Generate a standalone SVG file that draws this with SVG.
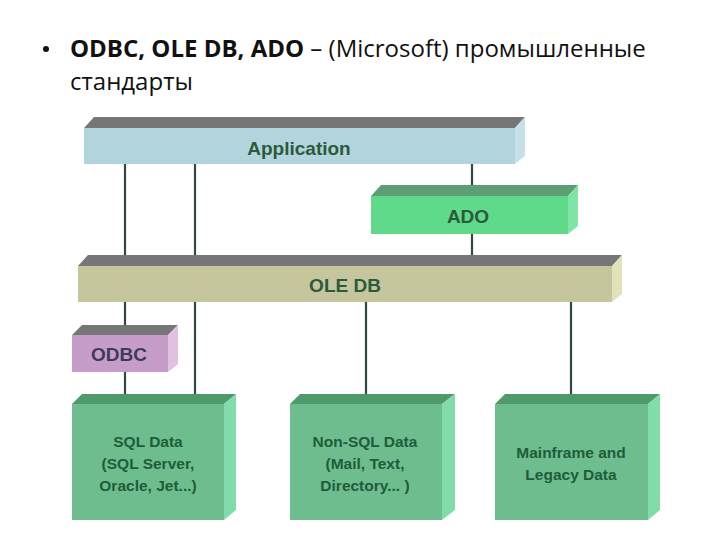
<svg xmlns="http://www.w3.org/2000/svg" width="720" height="540" viewBox="0 0 720 540">
<style>
.title{font-family:"Open Sans","Liberation Sans",sans-serif;font-size:24px;fill:#111}
.lbl{font-family:"Liberation Sans",Arial,sans-serif;font-weight:bold;text-anchor:middle}
.big{font-size:19px;fill:#2b5a3c}
.small{font-size:15.5px;fill:#1f5c3c}
.conn line{stroke:#2f4a40;stroke-width:2.2}
.topg{fill:#767676}
</style>
<rect width="720" height="540" fill="#fff"/>
<g id="title">
<circle cx="46" cy="49" r="3" fill="#111"/>
<text class="title" x="70" y="57"><tspan font-weight="bold">ODBC, OLE DB, ADO</tspan> – (Microsoft) промышленные</text>
<text class="title" x="70" y="90">стандарты</text>
</g>
<g class="conn" id="connectors">
<line x1="125" y1="164" x2="125" y2="256"/>
<line x1="195" y1="164" x2="195" y2="256"/>
<line x1="472" y1="164" x2="472" y2="186"/>
<line x1="472" y1="234" x2="472" y2="256"/>
<line x1="125" y1="302" x2="125" y2="326"/>
<line x1="125" y1="372" x2="125" y2="395"/>
<line x1="195" y1="302" x2="195" y2="395"/>
<line x1="366" y1="302" x2="366" y2="395"/>
<line x1="571" y1="302" x2="571" y2="395"/>
</g>
<g id="application">
<polygon class="topg" points="84,128 94,117 525,117 515,128"/>
<polygon points="515,128 525,117 525,156 515,164" fill="#c6e2e8"/>
<rect x="84" y="128" width="431" height="36" fill="#b2d4dc"/>
<text class="lbl big" x="299" y="155">Application</text>
</g>
<g id="ado">
<polygon points="371,196 381,185 578,185 568,196" fill="#5e9e74"/>
<polygon points="568,196 578,185 578,226 568,234" fill="#7fe4a4"/>
<rect x="371" y="196" width="197" height="38" fill="#5fd98a"/>
<text class="lbl big" x="468" y="223">ADO</text>
</g>
<g id="oledb">
<polygon class="topg" points="78,266 88,255 622,255 612,266"/>
<polygon points="612,266 622,255 622,294 612,302" fill="#e2e2ba"/>
<rect x="78" y="266" width="534" height="36" fill="#c6c69e"/>
<text class="lbl big" x="345" y="292">OLE DB</text>
</g>
<g id="odbc">
<polygon class="topg" points="72,335 82,325 178,325 168,335"/>
<polygon points="168,335 178,325 178,364 168,372" fill="#e2c0e2"/>
<rect x="72" y="335" width="96" height="37" fill="#c69cc8"/>
<text class="lbl" x="119" y="361" font-size="19" fill="#3c3c5a">ODBC</text>
</g>
<g id="sqldata">
<polygon points="72,404 82,394 236,394 224,404" fill="#4f9a6a"/>
<polygon points="224,404 236,394 236,510 224,520" fill="#82dcaa"/>
<rect x="72" y="404" width="152" height="116" fill="#6dbd8e"/>
<text class="lbl small" x="148" y="447">SQL Data</text>
<text class="lbl small" x="148" y="469">(SQL Server,</text>
<text class="lbl small" x="148" y="491">Oracle, Jet...)</text>
</g>
<g id="nonsql">
<polygon points="290,404 300,394 455,394 442,404" fill="#4f9a6a"/>
<polygon points="442,404 455,394 455,510 442,520" fill="#82dcaa"/>
<rect x="290" y="404" width="152" height="116" fill="#6dbd8e"/>
<text class="lbl small" x="365" y="447">Non-SQL Data</text>
<text class="lbl small" x="365" y="469">(Mail, Text,</text>
<text class="lbl small" x="365" y="491">Directory... )</text>
</g>
<g id="mainframe">
<polygon points="495,404 505,394 660,394 648,404" fill="#4f9a6a"/>
<polygon points="648,404 660,394 660,510 648,520" fill="#82dcaa"/>
<rect x="495" y="404" width="153" height="116" fill="#6dbd8e"/>
<text class="lbl small" x="571" y="458">Mainframe and</text>
<text class="lbl small" x="571" y="480">Legacy Data</text>
</g>
</svg>
